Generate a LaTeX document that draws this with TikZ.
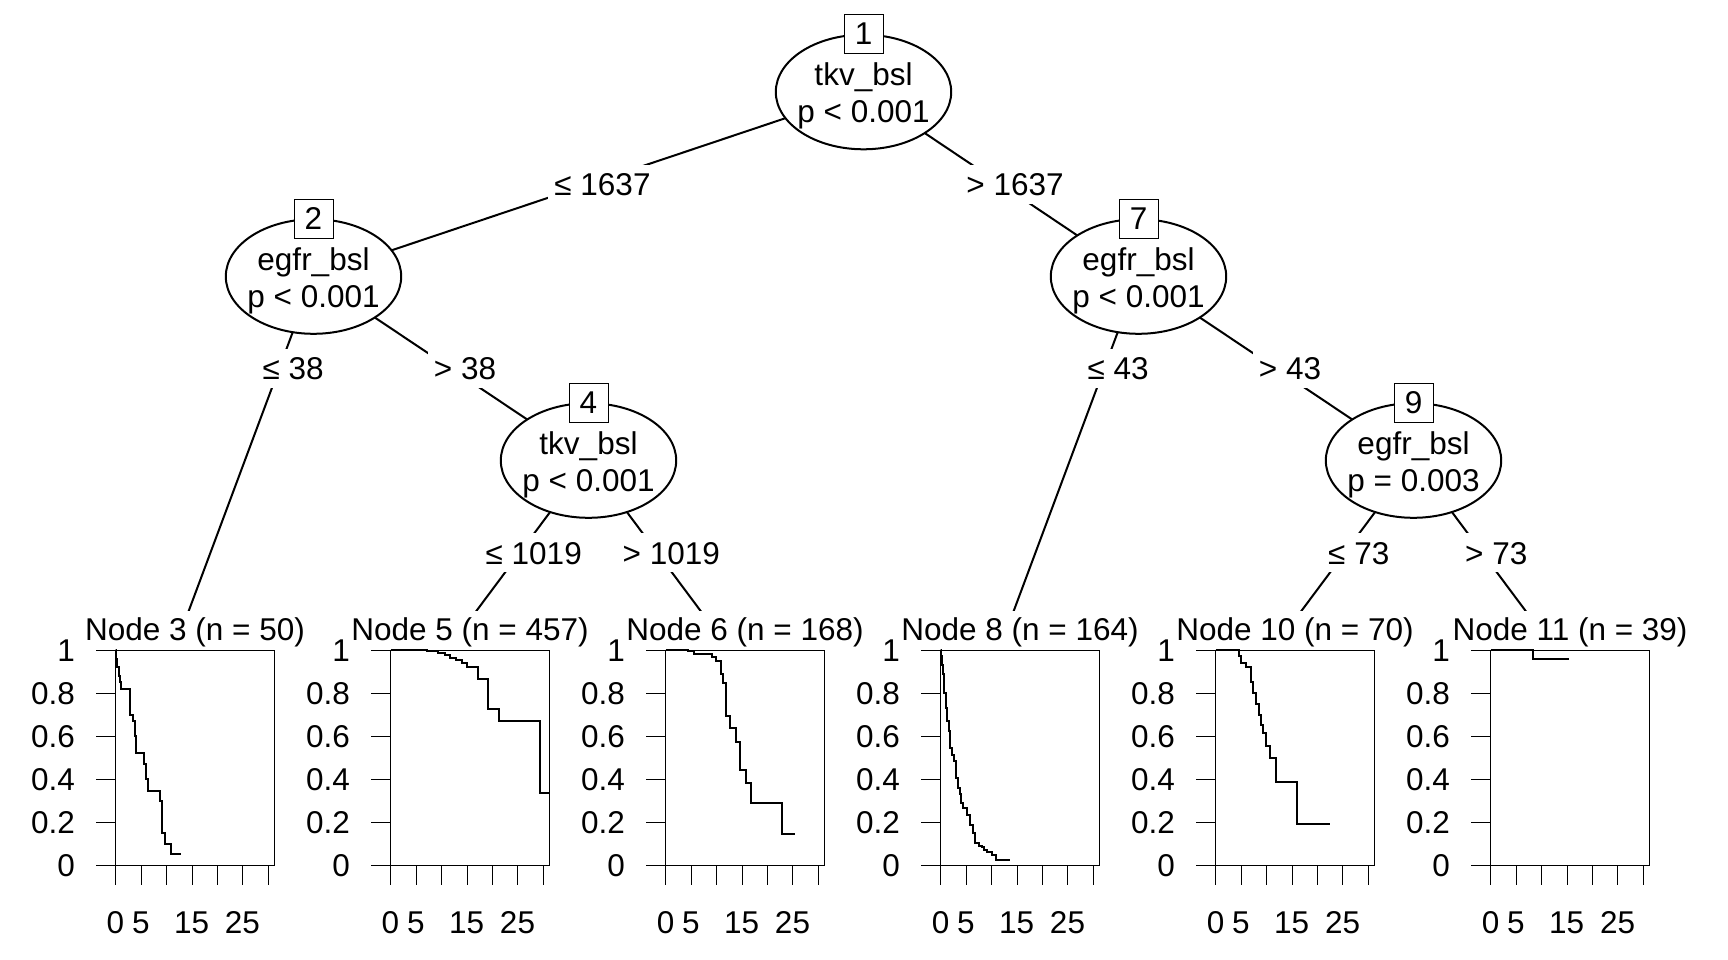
\documentclass[tikz,border=0pt]{standalone}
\usepackage{fontspec}
\setmainfont{Liberation Sans}
\usetikzlibrary{shapes.geometric,calc}
\pgfdeclarelayer{bg}
\pgfsetlayers{bg,main}
\newcommand\survpanel[2]{%
  \begin{scope}[shift={(#1,865)}, x=5.08pt, y=215pt]
    \draw (0,0) rectangle (31.3,1);
    \foreach \t in {0,5,...,30} \draw (\t,0) -- ++(0pt,-19.6pt);
    \foreach \s in {0,0.2,0.4,0.6,0.8,1} \draw (0,\s) -- ++(-20pt,0pt);
    \foreach \s in {0,0.2,0.4,0.6,0.8,1} \node[ylab] at (0,\s) {\s};
    \foreach \t in {0,5,15,25} \node[xlab] at (\t,0) {\t};
    \draw[curve] #2;
  \end{scope}}
\begin{document}
\begin{tikzpicture}[x=1pt,y=-1pt, line width=2pt,
  font=\fontsize{31.5}{36}\selectfont,
  inner/.style={ellipse, draw, fill=white, minimum width=175.4pt, minimum height=114.6pt, inner sep=0pt},
  idbox/.style={rectangle, draw, fill=white, minimum width=39pt, minimum height=39pt, inner sep=0pt, text height=22.6pt, text depth=0pt},
  ntext/.style={anchor=base, inner sep=0pt},
  elab/.style={fill=white, inner xsep=6pt, inner ysep=0pt, minimum height=39.4pt, text height=22.6pt, text depth=0pt, xshift=14pt},
  tlab/.style={fill=white, anchor=base, inner xsep=4pt, inner ysep=6.7pt, text height=22.6pt, text depth=0pt},
  ylab/.style={anchor=east, xshift=-40.4pt, inner sep=0pt, text height=22.6pt, text depth=0pt},
  xlab/.style={yshift=-57.5pt, inner sep=0pt, text height=22.6pt, text depth=0pt},
  curve/.style={line width=2pt, line join=miter},
  edge/.style={line width=2pt}
]
\useasboundingbox (0,0) rectangle (1728,960);

% inner nodes
\node[inner] (n1) at (863.5,92) {};
\node[inner] (n2) at (313.5,276.5) {};
\node[inner] (n4) at (588.5,460.5) {};
\node[inner] (n7) at (1138.5,276.5) {};
\node[inner] (n9) at (1413.5,460.5) {};

% terminal attachment points
\coordinate (t3) at (176,645);
\coordinate (t5) at (451,645);
\coordinate (t6) at (726,645);
\coordinate (t8) at (1001,645);
\coordinate (t10) at (1276,645);
\coordinate (t11) at (1551,645);

% edges (behind)
\begin{pgfonlayer}{bg}
  \draw[edge] (n1.center) -- (n2.center);
  \draw[edge] (n1.center) -- (n7.center);
  \draw[edge] (n2.center) -- (t3);
  \draw[edge] (n2.center) -- (n4.center);
  \draw[edge] (n4.center) -- (t5);
  \draw[edge] (n4.center) -- (t6);
  \draw[edge] (n7.center) -- (t8);
  \draw[edge] (n7.center) -- (n9.center);
  \draw[edge] (n9.center) -- (t10);
  \draw[edge] (n9.center) -- (t11);
\end{pgfonlayer}

% edge labels
\node[elab] (e12) at ($(n1)!0.5!(n2)$) {≤ 1637};
\node[elab] (e17) at ($(n1)!0.5!(n7)$) {> 1637};
\node[elab] (e23) at ($(n2)!0.25!(t3)$) {≤ 38};
\node[elab] (e24) at ($(n2)!0.5!(n4)$) {> 38};
\node[elab] (e45) at ($(n4)!0.5!(t5)$) {≤ 1019};
\node[elab] (e46) at ($(n4)!0.5!(t6)$) {> 1019};
\node[elab] (e78) at ($(n7)!0.25!(t8)$) {≤ 43};
\node[elab] (e79) at ($(n7)!0.5!(n9)$) {> 43};
\node[elab] (e910) at ($(n9)!0.5!(t10)$) {≤ 73};
\node[elab] (e911) at ($(n9)!0.5!(t11)$) {> 73};

% node texts
\node[ntext] (n1a) at ($(n1.center)+(0,-6.5)$) {tkv\_bsl};
\node[ntext] (n1b) at ($(n1.center)+(0,31)$) {p < 0.001};
\node[ntext] (n2a) at ($(n2.center)+(0,-6.5)$) {egfr\_bsl};
\node[ntext] (n2b) at ($(n2.center)+(0,31)$) {p < 0.001};
\node[ntext] (n4a) at ($(n4.center)+(0,-6.5)$) {tkv\_bsl};
\node[ntext] (n4b) at ($(n4.center)+(0,31)$) {p < 0.001};
\node[ntext] (n7a) at ($(n7.center)+(0,-6.5)$) {egfr\_bsl};
\node[ntext] (n7b) at ($(n7.center)+(0,31)$) {p < 0.001};
\node[ntext] (n9a) at ($(n9.center)+(0,-6.5)$) {egfr\_bsl};
\node[ntext] (n9b) at ($(n9.center)+(0,31)$) {p = 0.003};

% id boxes
\node[idbox] (id1) at (n1.north) {1};
\node[idbox] (id2) at (n2.north) {2};
\node[idbox] (id4) at (n4.north) {4};
\node[idbox] (id7) at (n7.north) {7};
\node[idbox] (id9) at (n9.north) {9};

% terminal labels
\node[tlab] (l3) at (195,640) {Node 3 (n = 50)};
\node[tlab] (l5) at (470,640) {Node 5 (n = 457)};
\node[tlab] (l6) at (745,640) {Node 6 (n = 168)};
\node[tlab] (l8) at (1020,640) {Node 8 (n = 164)};
\node[tlab] (l10) at (1295,640) {Node 10 (n = 70)};
\node[tlab] (l11) at (1570,640) {Node 11 (n = 39)};

% survival panels
\survpanel{115.5}{(0,1) -| (0.15,0.96) -| (0.35,0.92) -| (0.6,0.88) -| (0.85,0.85) -| (1.1,0.82) -| (2.9,0.70) -| (3.4,0.67) -| (3.75,0.60) -| (4.13,0.52) -| (5.58,0.47) -| (6.0,0.40) -| (6.38,0.346) -| (8.77,0.30) -| (9.06,0.149) -| (9.78,0.099) -| (11.01,0.05) -- (12.97,0.05)}
\survpanel{390.5}{(0,1) -| (4.9,0.998) -| (7.1,0.995) -| (9.3,0.986) -| (10.7,0.975) -| (11.8,0.964) -| (12.9,0.953) -| (14.0,0.941) -| (15.07,0.921) -| (17.25,0.863) -| (19.28,0.724) -| (21.3,0.669) -| (29.35,0.335) -- (31.3,0.335)}
\survpanel{665.5}{(0,1) -| (4.49,0.995) -| (5.65,0.98) -| (9.06,0.967) -| (10.0,0.949) -| (10.87,0.887) -| (11.38,0.848) -| (11.96,0.693) -| (12.75,0.638) -| (13.9,0.571) -| (14.7,0.444) -| (15.9,0.382) -| (16.8,0.289) -| (22.97,0.144) -- (25.4,0.144)}
\survpanel{940.5}{(0,1) -| (0.1,0.97) -| (0.25,0.93) -| (0.51,0.887) -| (0.75,0.8) -| (1.01,0.731) -| (1.3,0.67) -| (1.59,0.623) -| (1.96,0.545) -| (2.3,0.51) -| (2.68,0.483) -| (3.04,0.405) -| (3.4,0.36) -| (3.77,0.328) -| (4.1,0.29) -| (4.49,0.266) -| (5.22,0.234) -| (5.8,0.188) -| (6.3,0.149) -| (6.88,0.102) -| (7.5,0.09) -| (8.1,0.082) -| (8.6,0.07) -| (9.2,0.061) -| (10.1,0.048) -| (10.9,0.025) -- (13.7,0.025)}
\survpanel{1215.5}{(0,1) -| (4.6,0.97) -| (5.0,0.94) -| (6.0,0.92) -| (6.9,0.85) -| (7.3,0.80) -| (7.9,0.75) -| (8.6,0.70) -| (9.0,0.65) -| (9.34,0.615) -| (9.85,0.553) -| (10.8,0.50) -| (12.0,0.385) -| (16.0,0.193) -- (22.6,0.193)}
\survpanel{1490.5}{(0,1) -| (8.3,0.957) -- (15.4,0.957)}
\end{tikzpicture}
\end{document}
